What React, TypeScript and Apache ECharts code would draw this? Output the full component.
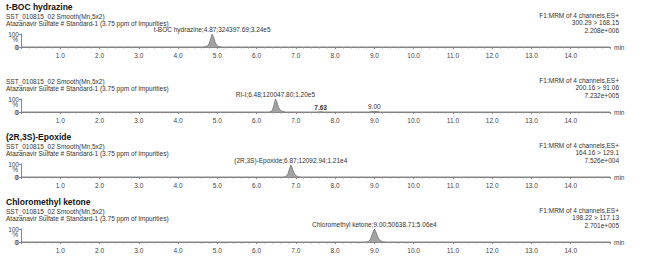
import React, { useEffect, useRef } from 'react';
import * as echarts from 'echarts';

const sampleName = 'SST_010815_02 Smooth(Mn,5x2)';
const sampleDesc = 'Atazanavir Sulfate # Standard-1 (3.75 ppm of Impurities)';
const panelTitles = ['t-BOC hydrazine', '', '(2R,3S)-Epoxide', 'Chloromethyl ketone'];
const channelInfo = ['F1:MRM of 4 channels,ES+', 'F1:MRM of 4 channels,ES+', 'F1:MRM of 4 channels,ES+', 'F1:MRM of 4 channels,ES+'];
const transitions = ['300.29 > 168.15', '200.16 > 91.06', '164.16 > 129.1', '198.22 > 117.13'];
const maxIntensities = ['2.208e+006', '7.232e+005', '7.526e+004', '2.701e+005'];
const yUnit = '%';
const yMin = 0;
const yMax = 100;
const timeMin = 0;
const timeMax = 15;
const timeInterval = 1;

// retention time (min), relative intensity (%)
const tbocTrace: [number, number][] = [[0, 0], [4.6, 0], [4.68, 1], [4.74, 6], [4.79, 25], [4.83, 62], [4.87, 100], [4.91, 70], [4.95, 32], [4.99, 10], [5.04, 3], [5.12, 0], [15, 0]];
const riTrace: [number, number][] = [[0, 0], [6.28, 0], [6.35, 2], [6.4, 12], [6.44, 50], [6.48, 100], [6.52, 72], [6.56, 35], [6.61, 12], [6.67, 3], [6.75, 0], [7.55, 0], [7.6, 2], [7.63, 3], [7.67, 1], [7.72, 0], [8.85, 0], [8.93, 3], [9.0, 4], [9.07, 3], [9.15, 0], [15, 0]];
const epoxideTrace: [number, number][] = [[0, 0], [6.67, 0], [6.74, 3], [6.79, 18], [6.83, 55], [6.87, 92], [6.91, 68], [6.95, 30], [7.0, 10], [7.06, 2], [7.14, 0], [15, 0]];
const chloroTrace: [number, number][] = [[0, 0], [8.78, 0], [8.85, 4], [8.9, 22], [8.95, 65], [9.0, 100], [9.04, 75], [9.09, 35], [9.14, 12], [9.2, 3], [9.3, 0], [15, 0]];

const traces = [tbocTrace, riTrace, epoxideTrace, chloroTrace];

const peakLabels: { panel: number; time: number; text: string; bold?: boolean }[] = [
  { panel: 0, time: 4.87, text: 't-BOC hydrazine;4.87;324397.69;3.24e5' },
  { panel: 1, time: 6.48, text: 'RI-I;6.48;120047.80;1.20e5' },
  { panel: 1, time: 7.63, text: '7.63', bold: true },
  { panel: 1, time: 9.0, text: '9.00' },
  { panel: 2, time: 6.87, text: '(2R,3S)-Epoxide;6.87;12092.94;1.21e4' },
  { panel: 3, time: 9.0, text: 'Chloromethyl ketone;9.00;50638.71;5.06e4' },
];

const FONT = "'Liberation Sans', Arial, sans-serif";

export default function App() {
  const ref = useRef<HTMLDivElement>(null);
  useEffect(() => {
    if (!ref.current) return;
    const chart = echarts.init(ref.current, undefined, { renderer: 'svg' });
    const panelTop = 34;
    const panelStep = 65;
    const panelHeight = 13;
    const grids: any[] = [];
    const xAxes: any[] = [];
    const yAxes: any[] = [];
    const series: any[] = [];
    const graphics: any[] = [];
    traces.forEach((trace, i) => {
      const top = panelTop + panelStep * i;
      grids.push({ left: 21, right: 54, top, height: panelHeight });
      xAxes.push({
        type: 'value', gridIndex: i, min: timeMin, max: timeMax, interval: timeInterval,
        axisLine: { show: true, onZero: false, lineStyle: { color: '#888', width: 1.2 } },
        axisTick: { show: true, length: 2, lineStyle: { color: '#888' } },
        minorTick: { show: true, splitNumber: 5, length: 1.5, lineStyle: { color: '#999' } },
        splitLine: { show: false },
        axisLabel: {
          fontSize: 6.5, color: '#444', margin: 5, fontFamily: FONT,
          showMinLabel: false, showMaxLabel: false,
          formatter: (v: number) => (v > timeMin && v < timeMax ? v.toFixed(1) : ''),
        },
        name: 'min', nameLocation: 'end', nameGap: 4,
        nameTextStyle: { fontSize: 6.5, color: '#444', fontFamily: FONT },
      });
      yAxes.push({
        type: 'value', gridIndex: i, min: yMin, max: yMax, interval: yMax - yMin,
        axisLine: { show: true, onZero: false, lineStyle: { color: '#888' } },
        axisTick: { show: true, length: 2, lineStyle: { color: '#888' } },
        splitLine: { show: false },
        axisLabel: {
          fontSize: 6.5, color: '#444', margin: 2, fontFamily: FONT,
          formatter: (v: number) => String(v),
        },
      });
      const labels = peakLabels.filter((p) => p.panel === i);
      series.push({
        type: 'line', xAxisIndex: i, yAxisIndex: i,
        symbol: 'circle', symbolSize: 0.1, showSymbol: true, showAllSymbol: true,
        itemStyle: { color: 'rgba(0,0,0,0)' },
        lineStyle: { color: '#707070', width: 0.8 },
        areaStyle: { color: '#a3a3a3', opacity: 1 },
        silent: true,
        data: trace.map(([t, v]) => {
          const lab = labels.find((p) => p.time === t);
          if (!lab) return [t, v];
          return {
            value: [t, v],
            label: {
              show: true, position: 'top', distance: 1, formatter: lab.text,
              fontSize: 6.5, color: '#333', fontFamily: FONT,
              fontWeight: lab.bold ? 'bold' : 'normal',
            },
          };
        }),
      });
      graphics.push({
        type: 'text', x: 18, y: top + panelHeight / 2 - 1,
        style: { text: yUnit, fill: '#444', font: `6.5px ${FONT}`, align: 'right', verticalAlign: 'middle' },
      });
      graphics.push({
        type: 'text', x: 18, y: top + panelHeight,
        style: { text: String(yMin), fill: '#444', font: `6.5px ${FONT}`, align: 'right', verticalAlign: 'middle' },
      });
      if (panelTitles[i]) {
        graphics.push({
          type: 'text', x: 6, y: top - 27,
          style: { text: panelTitles[i], fill: '#111', font: `bold 8.5px ${FONT}`, align: 'left', verticalAlign: 'middle' },
        });
      }
      graphics.push({
        type: 'text', x: 6, y: top - 18,
        style: { text: sampleName, fill: '#333', font: `6.5px ${FONT}`, align: 'left', verticalAlign: 'middle' },
      });
      graphics.push({
        type: 'text', x: 6, y: top - 11,
        style: { text: sampleDesc, fill: '#333', font: `6.5px ${FONT}`, align: 'left', verticalAlign: 'middle' },
      });
      [channelInfo[i], transitions[i], maxIntensities[i]].forEach((s, k) => {
        graphics.push({
          type: 'text', x: 619, y: top - 19 + k * 7.5,
          style: { text: s, fill: '#333', font: `6.5px ${FONT}`, align: 'right', verticalAlign: 'middle' },
        });
      });
    });
    chart.setOption({
      animation: false,
      backgroundColor: '#fff',
      grid: grids,
      xAxis: xAxes,
      yAxis: yAxes,
      series,
      graphic: graphics,
    });
    return () => chart.dispose();
  }, []);
  return <div ref={ref} style={{ position: 'fixed', left: 0, top: 0, width: 664, height: 277 }} />;
}
